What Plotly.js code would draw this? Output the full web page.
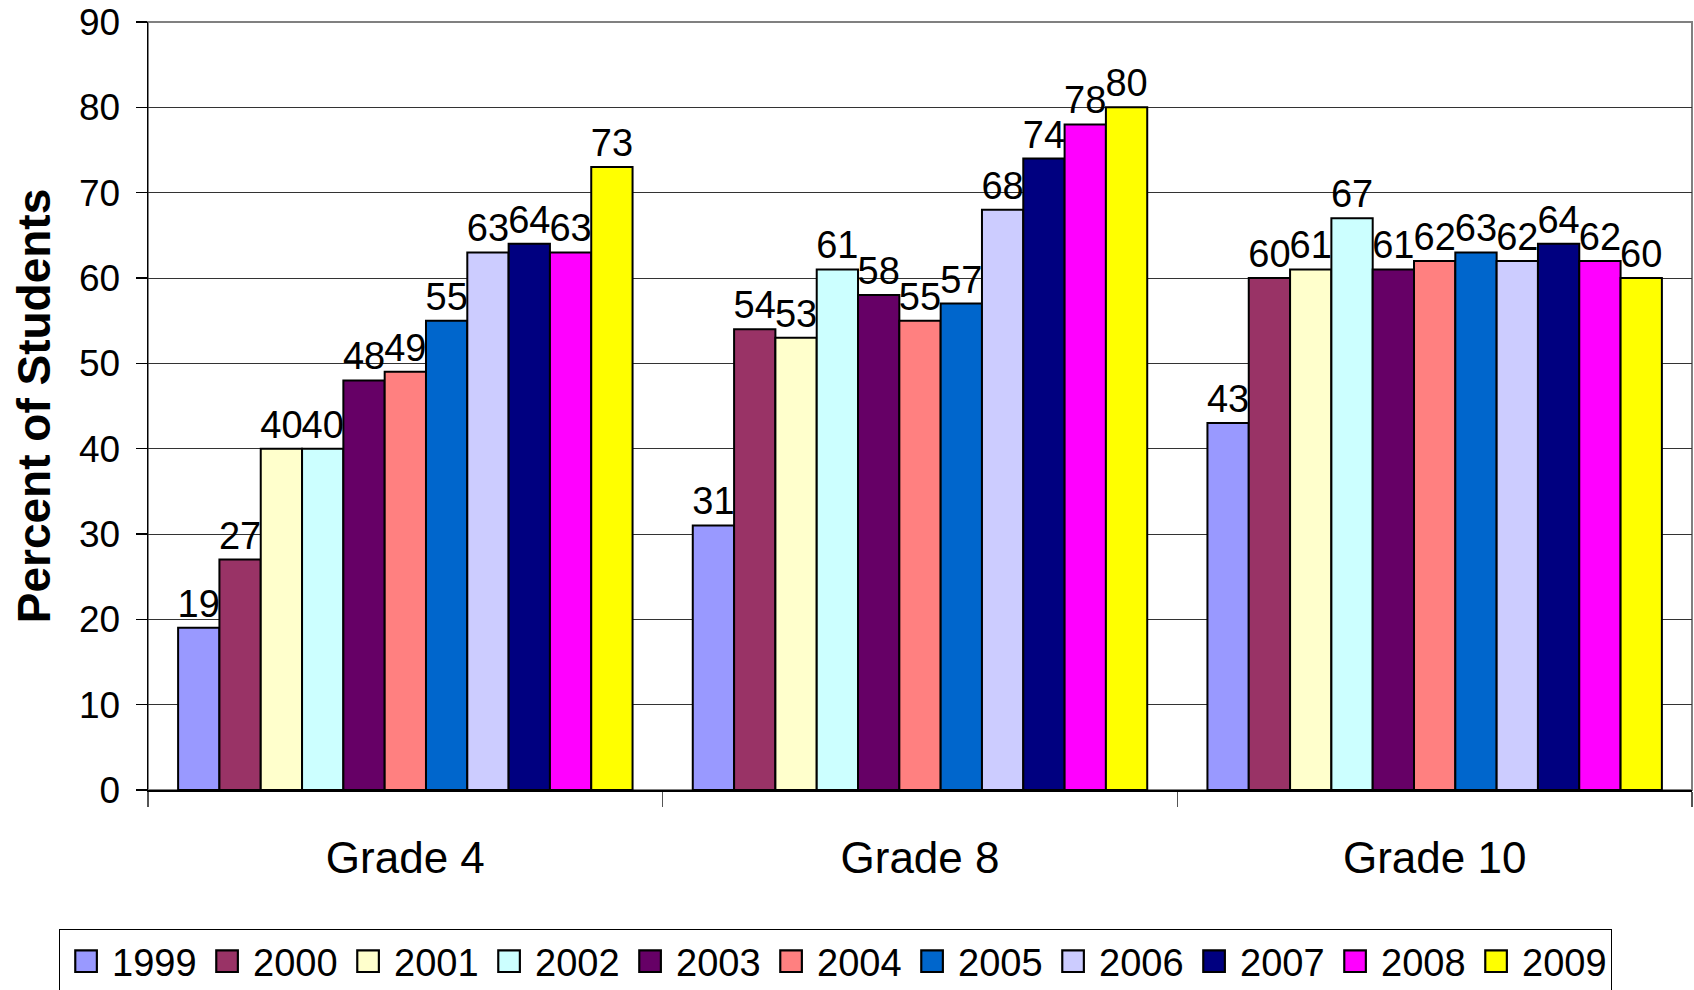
<!DOCTYPE html>
<html>
<head>
<meta charset="utf-8">
<script src="https://cdn.plot.ly/plotly-3.0.1.min.js"></script>
<style>
html,body{margin:0;padding:0;background:#fff;}
#chart{width:1694px;height:990px;}
</style>
</head>
<body>
<div id="chart"></div>
<script>
const grades = ["Grade 4", "Grade 8", "Grade 10"];
const years = ["1999","2000","2001","2002","2003","2004","2005","2006","2007","2008","2009"];
const v1999 = [19, 31, 43];
const v2000 = [27, 54, 60];
const v2001 = [40, 53, 61];
const v2002 = [40, 61, 67];
const v2003 = [48, 58, 61];
const v2004 = [49, 55, 62];
const v2005 = [55, 57, 63];
const v2006 = [63, 68, 62];
const v2007 = [64, 74, 64];
const v2008 = [63, 78, 62];
const v2009 = [73, 80, 60];
const seriesValues = [v1999, v2000, v2001, v2002, v2003, v2004, v2005, v2006, v2007, v2008, v2009];
const colors = ["#9999FF","#993366","#FFFFCC","#CCFFFF","#660066","#FF8080","#0066CC","#CCCCFF","#000080","#FF00FF","#FFFF00"];
const yTicks = [0,10,20,30,40,50,60,70,80,90];

const FONT = "Liberation Sans, Arial, sans-serif";

const traces = years.map((yr, i) => ({
  type: "bar",
  name: yr,
  x: grades,
  y: seriesValues[i],
  text: seriesValues[i].map(String),
  textposition: "outside",
  constraintext: "none",
  cliponaxis: false,
  textfont: {family: FONT, size: 38, color: "#000"},
  marker: {color: colors[i], line: {color: "#000", width: 2}},
  hoverinfo: "x+y+name"
}));

const layout = {
  width: 1694, height: 990,
  margin: {l: 148, r: 2, t: 22, b: 200, autoexpand: false},
  paper_bgcolor: "#fff", plot_bgcolor: "#fff",
  font: {family: FONT, color: "#000"},
  barmode: "group",
  bargap: 0.117,
  bargroupgap: 0,
  showlegend: true,
  legend: {
    orientation: "h",
    x: -0.0576, xanchor: "left",
    y: -0.181, yanchor: "top",
    bordercolor: "#000", borderwidth: 1,
    font: {family: FONT, size: 38, color: "#000"},
    itemwidth: 42,
    entrywidth: 84, entrywidthmode: "pixels",
    traceorder: "normal"
  },
  xaxis: {
    type: "category",
    tickson: "boundaries",
    ticks: "outside", ticklen: 15, tickcolor: "#555", tickwidth: 1.5,
    showline: true, linecolor: "#000", linewidth: 1.5,
    showgrid: false,
    tickfont: {family: FONT, size: 44, color: "#000"},
    ticklabelstandoff: 29,
    fixedrange: true
  },
  yaxis: {
    range: [0, 90],
    tickvals: yTicks,
    ticktext: yTicks.map(String),
    ticks: "outside", ticklen: 11, tickcolor: "#000", tickwidth: 1.5,
    showline: true, linecolor: "#000", linewidth: 1.5,
    showgrid: true, gridcolor: "#333", gridwidth: 1,
    zeroline: false,
    tickfont: {family: FONT, size: 37, color: "#000"},
    ticklabelstandoff: 8,
    title: {text: "Percent of Students", font: {family: FONT, size: 46, color: "#000", weight: "bold"}, standoff: 14},
    automargin: false,
    fixedrange: true
  },
  shapes: [{
    type: "rect", xref: "paper", yref: "paper", x0: 0, x1: 1, y0: 0, y1: 1,
    line: {color: "#808080", width: 2}, fillcolor: "rgba(0,0,0,0)", layer: "below"
  }]
};

Plotly.newPlot("chart", traces, layout, {displayModeBar: false, staticPlot: true}).then(gd => {
  document.querySelectorAll("#chart .legend .legendpoints path").forEach(p => {
    const t = p.getAttribute("transform") || "";
    p.setAttribute("transform", t + " scale(1.8)");
    p.style.strokeWidth = "1.2px";
  });
});
</script>
</body>
</html>
